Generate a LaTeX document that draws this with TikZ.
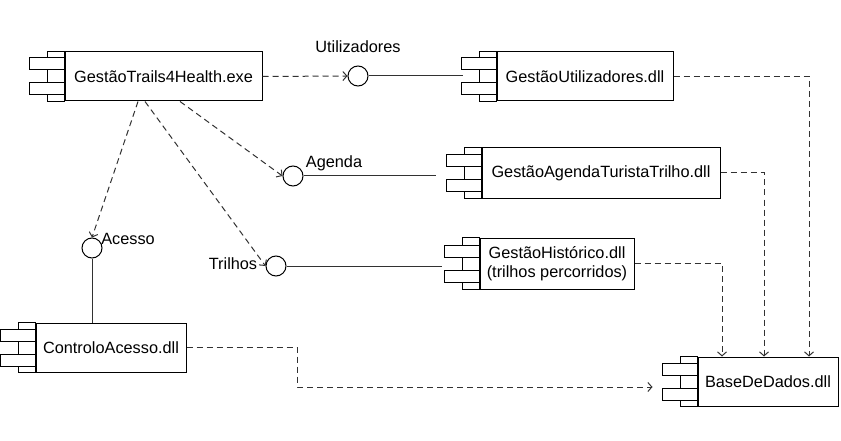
\documentclass[tikz,border=0pt]{standalone}
\usepackage{fontspec}
\setmainfont{Liberation Sans}
\usetikzlibrary{arrows.meta,calc}
\definecolor{lineg}{RGB}{50,50,50}
\newcommand{\umlfont}{\fontsize{16.3pt}{19pt}\selectfont}
% strip and the two tabs of a UML component
\newcommand{\comptabs}[1]{%
  \draw[compline] ($(#1.north west)+(-17,0)$) rectangle (#1.south west);
  \draw[compline,fill=white] ($(#1.west)+(-35,-6.5)$) rectangle ($(#1.west)+(0,-18.5)$);
  \draw[compline,fill=white] ($(#1.west)+(-35,6.5)$) rectangle ($(#1.west)+(0,18.5)$);
}
\tikzset{
  comp/.style={draw,fill=white,line width=1pt,minimum height=49pt,align=center,inner sep=0pt,font=\umlfont},
  compline/.style={draw,line width=1pt},
  iface/.style={circle,draw,line width=1pt,minimum size=20pt,inner sep=0pt,fill=white},
  lbl/.style={font=\umlfont,inner sep=0pt},
}

\begin{document}
\begin{tikzpicture}[x=1pt,y=-1pt,
    dep/.style={->,lineg,line width=1pt,dash pattern=on 6pt off 4pt},
    conn/.style={lineg,line width=1pt},
    >={Straight Barb[length=4pt,width=9pt]},
  ]
  \path[use as bounding box] (0,0) rectangle (841,441);

  % components
  \node[comp,minimum width=197pt] (exe) at (163.5,76.5) {GestãoTrails4Health.exe};
  \node[comp,minimum width=176pt] (util) at (585,76.5) {GestãoUtilizadores.dll};
  \node[comp,minimum width=238pt,minimum height=50pt] (agenda) at (601,173) {GestãoAgendaTuristaTrilho.dll};
  \node[comp,minimum width=154pt,minimum height=51pt] (hist) at (557,263.5) {GestãoHistórico.dll\\(trilhos percorridos)};
  \node[comp,minimum width=150pt] (ctrl) at (111,347.5) {ControloAcesso.dll};
  \node[comp,minimum width=140pt] (base) at (768,381.5) {BaseDeDados.dll};
  \comptabs{exe}
  \comptabs{util}
  \comptabs{agenda}
  \comptabs{hist}
  \comptabs{ctrl}
  \comptabs{base}

  % interfaces
  \node[iface] (iUtil) at (358,76) {};
  \node[iface] (iAg) at (293,176) {};
  \node[iface] (iTri) at (276,266) {};
  \node[iface] (iAc) at (92,248) {};
  \node[lbl] (lUtil) at (358,47) {Utilizadores};
  \node[lbl] (lAg) at (334,163) {Agenda};
  \node[lbl] (lTri) at (233,264) {Trilhos};
  \node[lbl] (lAc) at (128,239) {Acesso};

  \coordinate (utilTab) at ($(util.west)+(-34,-0.5)$);
  \coordinate (agEnd) at ($(agenda.west)+(-46,3)$);
  \coordinate (histEnd) at ($(hist.west)+(-38,2.5)$);
  \coordinate (baseTab) at ($(base.west)+(-45,5.5)$);

  % provided interfaces
  \draw[conn] (iUtil) -- (utilTab);
  \draw[conn] (iAg) -- (agEnd);
  \draw[conn] (iTri) -- (histEnd);
  \draw[conn] (iAc) -- (iAc |- ctrl.north);

  % usage
  \draw[dep] (exe.east) -- (iUtil.west);
  \draw[dep] ($(exe.south)+(16.5,0)$) -- (iAg.west);
  \draw[dep] ($(exe.south)+(-18.5,0)$) -- (iTri.west);
  \draw[dep] ($(exe.south)+(-25.5,0)$) -- (iAc.north);

  % data access
  \draw[dep] (util.east) -| ($(base.north)+(41,0)$);
  \draw[dep] (agenda.east) -| ($(base.north)+(-4,0)$);
  \draw[dep] (hist.east) -| ($(base.north)+(-46,0)$);
  \draw[dep] (ctrl.east) -- ++(111,0) |- (baseTab);
\end{tikzpicture}
\end{document}
